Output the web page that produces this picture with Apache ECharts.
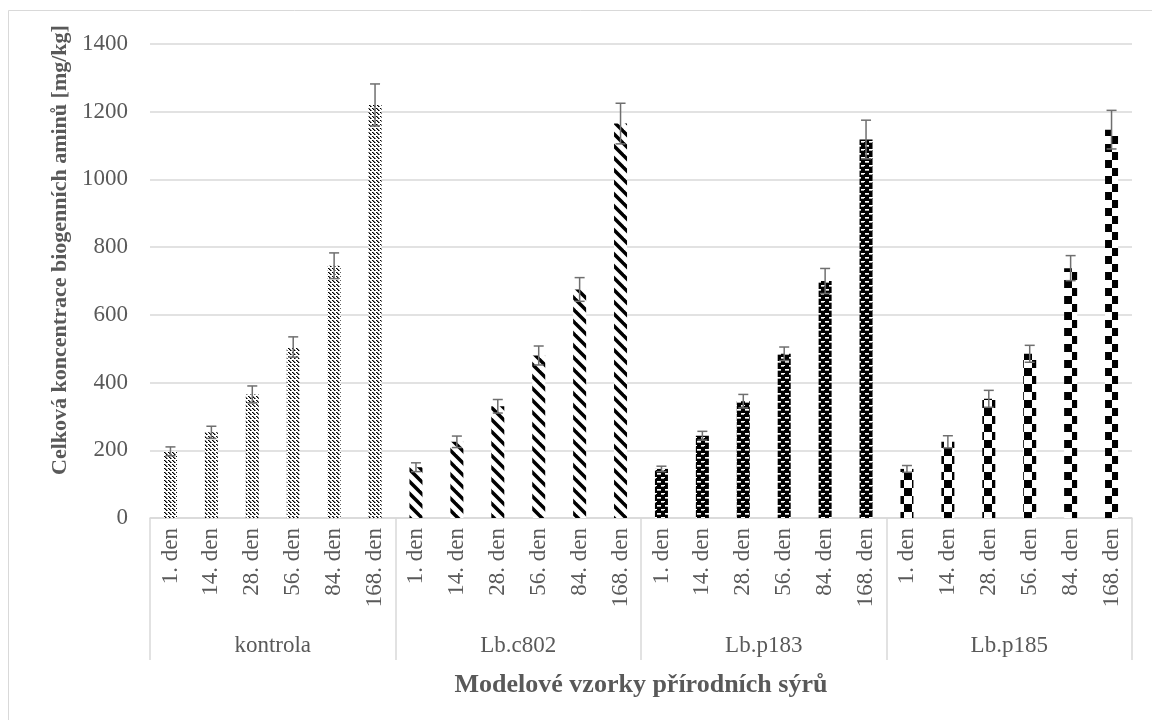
<!DOCTYPE html>
<html>
<head>
<meta charset="utf-8">
<script src="https://cdn.jsdelivr.net/npm/echarts@6/dist/echarts.min.js"></script>
<style>
  html, body { margin: 0; padding: 0; background: #fff; }
  #chart { width: 1152px; height: 720px; }
</style>
</head>
<body>
<div id="chart"></div>
<script>
// data
const groups = ['kontrola', 'Lb.c802', 'Lb.p183', 'Lb.p185'];
const days = ['1. den', '14. den', '28. den', '56. den', '84. den', '168. den'];
const kontrola = [197, 253, 365, 505, 745, 1220];
const lbc802 = [150, 225, 330, 480, 675, 1165];
const lbp183 = [145, 243, 345, 485, 700, 1118];
const lbp185 = [145, 225, 352, 485, 738, 1147];
const errKontrola = [13, 18, 25, 30, 38, 62];
const errLbc802 = [13, 17, 20, 28, 35, 60];
const errLbp183 = [8, 13, 20, 20, 37, 57];
const errLbp185 = [10, 18, 25, 25, 37, 57];
const yTicks = [0, 200, 400, 600, 800, 1000, 1200, 1400];

const font = '"Liberation Serif", "DejaVu Serif", serif';
const textColor = '#595959';
const gridColor = '#d9d9d9';

function makeTile(w, h, draw) {
    const c = document.createElement('canvas');
    c.width = w;
    c.height = h;
    const ctx = c.getContext('2d');
    ctx.fillStyle = '#fff';
    ctx.fillRect(0, 0, w, h);
    draw(ctx);
    return c;
}

// dotted downward diagonal
const tileKontrola = makeTile(8, 8, ctx => {
    for (let i = 0; i < 8; i++) {
        if (i % 4 === 3) continue;
        ctx.fillStyle = '#000';
        ctx.fillRect(i, i, 1, 1);
        ctx.fillRect((i + 4) % 8, i, 1, 1);
        ctx.fillStyle = '#777';
        ctx.fillRect((i + 1) % 8, i, 1, 1);
        ctx.fillRect((i + 5) % 8, i, 1, 1);
    }
});
// wide downward diagonal
const tileC802 = makeTile(12, 12, ctx => {
    ctx.strokeStyle = '#000';
    ctx.lineWidth = 3.5;
    for (let k = -1; k <= 1; k++) {
        ctx.beginPath();
        ctx.moveTo(k * 12 - 2, -2);
        ctx.lineTo(k * 12 + 14, 14);
        ctx.stroke();
    }
});
// black with small white dashes
const tileP183 = makeTile(8, 8, ctx => {
    ctx.fillStyle = '#000';
    ctx.fillRect(0, 0, 8, 8);
    ctx.fillStyle = '#fff';
    ctx.fillRect(1, 1, 4, 1);
    ctx.fillRect(5, 5, 4, 1);
    ctx.fillRect(0, 5, 1, 1);
    ctx.fillStyle = '#aaa';
    ctx.fillRect(1, 2, 4, 1);
    ctx.fillRect(5, 6, 3, 1);
});
// large checkerboard
const tileP185 = makeTile(16, 16, ctx => {
    ctx.fillStyle = '#000';
    ctx.fillRect(0, 0, 8, 8);
    ctx.fillRect(8, 8, 8, 8);
});
const tiles = [tileKontrola, tileC802, tileP183, tileP185];

const values = [kontrola, lbc802, lbp183, lbp185];
const errors = [errKontrola, errLbc802, errLbp183, errLbp185];

const categories = [];
const barData = [];
const errData = [];
groups.forEach((g, gi) => {
    days.forEach((d, di) => {
        const idx = categories.length;
        categories.push(d);
        barData.push({
            value: values[gi][di],
            itemStyle: { color: { image: tiles[gi], repeat: 'repeat' } }
        });
        errData.push([idx, values[gi][di], errors[gi][di]]);
    });
});

const chart = echarts.init(document.getElementById('chart'), null, { renderer: 'canvas' });

const option = {
    backgroundColor: '#fff',
    animation: false,
    grid: { left: 150, right: 20, top: 44, bottom: 202 },
    xAxis: [
        {
            type: 'category',
            data: categories,
            axisLine: { lineStyle: { color: gridColor, width: 1.5 } },
            axisTick: { show: false },
            axisLabel: {
                rotate: 90,
                interval: 0,
                margin: 10,
                color: textColor,
                fontFamily: font,
                fontSize: 23
            }
        },
        {
            type: 'category',
            data: groups,
            position: 'bottom',
            axisLine: { show: false },
            axisTick: { show: true, length: 142, lineStyle: { color: gridColor, width: 1.5 } },
            axisLabel: {
                margin: 116,
                color: textColor,
                fontFamily: font,
                fontSize: 23
            }
        }
    ],
    yAxis: {
        type: 'value',
        min: 0,
        max: yTicks[yTicks.length - 1],
        interval: 200,
        axisLine: { show: false },
        axisTick: { show: false },
        splitLine: { lineStyle: { color: gridColor, width: 1.5 } },
        axisLabel: {
            margin: 22,
            color: textColor,
            fontFamily: font,
            fontSize: 23,
            formatter: v => String(v)
        }
    },
    graphic: [
        {
            type: 'polyline',
            shape: { points: [[8.5, 720], [8.5, 10.5], [1152, 10.5]] },
            style: { fill: 'none', stroke: gridColor, lineWidth: 1 },
            z: -1
        },
        {
            type: 'text',
            x: 60,
            y: 250,
            rotation: Math.PI / 2,
            style: {
                text: 'Celková koncentrace biogenních aminů [mg/kg]',
                fill: textColor,
                font: 'bold 22px ' + font,
                textAlign: 'center',
                textVerticalAlign: 'middle'
            }
        },
        {
            type: 'text',
            x: 641,
            y: 685,
            style: {
                text: 'Modelové vzorky přírodních sýrů',
                fill: textColor,
                font: 'bold 26px ' + font,
                textAlign: 'center',
                textVerticalAlign: 'middle'
            }
        }
    ],
    series: [
        {
            type: 'bar',
            xAxisIndex: 0,
            data: barData,
            barWidth: 13
        },
        {
            type: 'custom',
            xAxisIndex: 0,
            data: errData,
            z: 10,
            renderItem: (params, api) => {
                const x = api.value(0);
                const v = api.value(1);
                const e = api.value(2);
                const top = api.coord([x, v + e]);
                const bot = api.coord([x, v - e]);
                const half = 5;
                const style = { stroke: '#6f6f6f', lineWidth: 1.5 };
                return {
                    type: 'group',
                    children: [
                        { type: 'line', shape: { x1: top[0], y1: top[1], x2: bot[0], y2: bot[1] }, style },
                        { type: 'line', shape: { x1: top[0] - half, y1: top[1], x2: top[0] + half, y2: top[1] }, style },
                        { type: 'line', shape: { x1: bot[0] - half, y1: bot[1], x2: bot[0] + half, y2: bot[1] }, style }
                    ]
                };
            }
        }
    ]
};

chart.setOption(option);
</script>
</body>
</html>
